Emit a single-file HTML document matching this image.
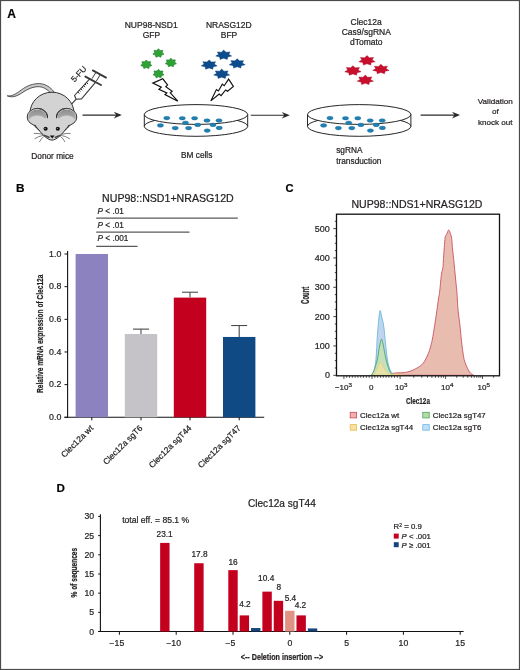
<!DOCTYPE html>
<html><head><meta charset="utf-8"><style>
html,body{margin:0;padding:0;background:#fff;}
svg{display:block;font-family:"Liberation Sans", sans-serif;} text{stroke:#231f20;stroke-width:0.22px;}
</style></head><body>
<svg style="will-change:transform" width="520" height="670" viewBox="0 0 520 670">
<rect x="0" y="0" width="520" height="670" fill="#fff"/>
<text x="7.2" y="18.2" font-size="12" font-weight="bold" fill="#000">A</text><path d="M7.2,95.8 C12,96.8 16.5,93.5 21.5,89.8 C27,85.8 33,83.4 39.5,83.6 C45.5,83.9 50.5,87.4 54,91.8 L51.2,93.6 C48,90 44,87 39.2,86.7 C33.5,86.5 28.5,88.6 23,92.2 C17.5,96 12.5,98.2 7.2,95.8 Z" fill="#c9c9c9" stroke="#333" stroke-width="0.8"/><ellipse cx="52" cy="113.2" rx="22" ry="21" fill="#d3d3d3" stroke="#333" stroke-width="1"/><defs><linearGradient id="eg" x1="0" y1="0" x2="0" y2="1"><stop offset="0" stop-color="#8c8c8c"/><stop offset="0.5" stop-color="#b0b0b0"/><stop offset="1" stop-color="#d3d3d3"/></linearGradient><clipPath id="ecl"><ellipse cx="37.4" cy="117" rx="9.2" ry="7.6"/></clipPath><clipPath id="ecr"><ellipse cx="66.6" cy="117" rx="9.2" ry="7.6"/></clipPath></defs><ellipse cx="37.4" cy="117" rx="10.2" ry="8.6" fill="#d3d3d3" stroke="#333" stroke-width="1"/><g clip-path="url(#ecl)"><ellipse cx="37.4" cy="119" rx="11" ry="9.5" fill="url(#eg)"/><ellipse cx="37.4" cy="123.2" rx="9.5" ry="7.6" fill="#d3d3d3"/></g><ellipse cx="66.6" cy="117" rx="10.2" ry="8.6" fill="#d3d3d3" stroke="#333" stroke-width="1"/><g clip-path="url(#ecr)"><ellipse cx="66.6" cy="119" rx="11" ry="9.5" fill="url(#eg)"/><ellipse cx="66.6" cy="123.2" rx="9.5" ry="7.6" fill="#d3d3d3"/></g><path d="M35.2,124.6 C38.5,129 41.5,134 45,136.5 C48,139 50,140 52,140 C54,140 56,139 59,136.5 C62.5,134 65.5,129 68.8,124.6 L70,125.6 L68,121 L56.3,117.6 L47.7,117.6 L36,121 L34,125.6 Z" fill="#d3d3d3"/><path d="M34.8,125.1 C38.2,129 41.5,134 45,136.6 C48,139.2 50,140.1 52,140.1 C54,140.1 56,139.2 59,136.6 C62.5,134 65.8,129 69.2,125.1" fill="none" stroke="#333" stroke-width="1"/><path d="M37.6,108.4 C43,108.8 47.2,111.5 47.6,118.2" fill="none" stroke="#333" stroke-width="1"/><path d="M66.4,108.4 C61,108.8 56.8,111.5 56.4,118.2" fill="none" stroke="#333" stroke-width="1"/><circle cx="45.6" cy="128.8" r="2.05" fill="#111"/><circle cx="57.8" cy="128.8" r="2.05" fill="#111"/><circle cx="45.1" cy="128.2" r="0.5" fill="#ddd"/><circle cx="57.3" cy="128.2" r="0.5" fill="#ddd"/><path d="M43.8,135.2 C46,136 48,136.6 49.6,137.6" stroke="#4a4a4a" stroke-width="1.6" fill="none"/><path d="M60.6,135.2 C58.4,136 56.4,136.6 54.8,137.6" stroke="#4a4a4a" stroke-width="1.6" fill="none"/><path d="M49.8,135.6 L54.6,135.6 L52.2,138.6 Z" fill="#111"/><path d="M43,134.3 Q38,133.2 33.8,133.4" stroke="#3a3a3a" stroke-width="0.65" fill="none"/><path d="M43.2,135.4 Q38.5,136.2 34.6,138.8" stroke="#3a3a3a" stroke-width="0.65" fill="none"/><path d="M43.8,136.4 Q41,138.8 39.4,142" stroke="#3a3a3a" stroke-width="0.65" fill="none"/><path d="M61.4,134.3 Q66.4,133.2 70.6,133.4" stroke="#3a3a3a" stroke-width="0.65" fill="none"/><path d="M61.2,135.4 Q65.9,136.2 69.8,138.8" stroke="#3a3a3a" stroke-width="0.65" fill="none"/><path d="M60.6,136.4 Q63.4,138.8 65,142" stroke="#3a3a3a" stroke-width="0.65" fill="none"/><line x1="71.8" y1="103.8" x2="76.2" y2="99.2" stroke="#3a3a3a" stroke-width="1.2"/><polygon points="74.5,95.5 89.7,78.9 95.7,82.2 81.5,98.9 76.2,99.3" fill="#fff" stroke="#3a3a3a" stroke-width="1.1" stroke-linejoin="round"/><line x1="77.84" y1="91.85" x2="79.30" y2="93.50" stroke="#2a2a2a" stroke-width="1.0"/><line x1="79.29" y1="90.27" x2="80.41" y2="91.55" stroke="#2a2a2a" stroke-width="1.0"/><line x1="80.73" y1="88.69" x2="82.18" y2="90.34" stroke="#2a2a2a" stroke-width="1.0"/><line x1="82.18" y1="87.12" x2="83.30" y2="88.39" stroke="#2a2a2a" stroke-width="1.0"/><line x1="83.62" y1="85.54" x2="85.07" y2="87.19" stroke="#2a2a2a" stroke-width="1.0"/><line x1="85.06" y1="83.96" x2="86.19" y2="85.24" stroke="#2a2a2a" stroke-width="1.0"/><line x1="86.51" y1="82.39" x2="87.96" y2="84.04" stroke="#2a2a2a" stroke-width="1.0"/><line x1="92" y1="78.6" x2="96.2" y2="72" stroke="#3a3a3a" stroke-width="1"/><line x1="96.3" y1="81.1" x2="100.5" y2="74.3" stroke="#3a3a3a" stroke-width="1"/><line x1="85.4" y1="76.6" x2="101" y2="85" stroke="#3a3a3a" stroke-width="1.9" stroke-linecap="round"/><line x1="92.8" y1="70.4" x2="106" y2="77.6" stroke="#3a3a3a" stroke-width="1.9" stroke-linecap="round"/><text x="0" y="0" font-size="8.2" fill="#231f20" transform="translate(74.6,82.6) rotate(-47)">5-FU</text><text x="52.5" y="158.8" font-size="8.3" text-anchor="middle" fill="#231f20" >Donor mice</text><line x1="82.5" y1="115.1" x2="119.8" y2="115.1" stroke="#2a2a2a" stroke-width="1.1"/><path d="M121.8,115.1 L113.8,111.8 L116.3,115.1 L113.8,118.39999999999999 Z" fill="#2a2a2a"/><line x1="250.8" y1="115.2" x2="287.8" y2="115.2" stroke="#2a2a2a" stroke-width="1.1"/><path d="M289.8,115.2 L281.8,111.9 L284.3,115.2 L281.8,118.5 Z" fill="#2a2a2a"/><line x1="420.6" y1="115.1" x2="458" y2="115.1" stroke="#2a2a2a" stroke-width="1.1"/><path d="M460,115.1 L452,111.8 L454.5,115.1 L452,118.39999999999999 Z" fill="#2a2a2a"/><path d="M144.30,114.5 L144.30,126.4 A51.7,9.9 0 0 0 247.70,126.4 L247.70,114.5 Z" fill="#fff"/><ellipse cx="196.00" cy="114.5" rx="51.7" ry="9.9" fill="#fff" stroke="#262626" stroke-width="1"/><path d="M144.30,114.5 L144.30,126.4 A51.7,9.9 0 0 0 247.70,126.4 L247.70,114.5" fill="none" stroke="#262626" stroke-width="1"/><path d="M144.30,126.4 A51.7,9.9 0 0 1 154.68,120.45" fill="none" stroke="#262626" stroke-width="1"/><path d="M247.70,126.4 A51.7,9.9 0 0 0 237.32,120.45" fill="none" stroke="#262626" stroke-width="1"/><ellipse cx="166.80" cy="118.1" rx="3.1" ry="1.8" fill="#1f80b4" stroke="#16688f" stroke-width="0.4"/><ellipse cx="182.30" cy="118.2" rx="3.1" ry="1.8" fill="#1f80b4" stroke="#16688f" stroke-width="0.4"/><ellipse cx="194.60" cy="118.2" rx="3.1" ry="1.8" fill="#1f80b4" stroke="#16688f" stroke-width="0.4"/><ellipse cx="207.00" cy="120.5" rx="3.1" ry="1.8" fill="#1f80b4" stroke="#16688f" stroke-width="0.4"/><ellipse cx="219.00" cy="120.5" rx="3.1" ry="1.8" fill="#1f80b4" stroke="#16688f" stroke-width="0.4"/><ellipse cx="185.50" cy="122.8" rx="3.1" ry="1.8" fill="#1f80b4" stroke="#16688f" stroke-width="0.4"/><ellipse cx="197.70" cy="124.9" rx="3.1" ry="1.8" fill="#1f80b4" stroke="#16688f" stroke-width="0.4"/><ellipse cx="213.00" cy="124.9" rx="3.1" ry="1.8" fill="#1f80b4" stroke="#16688f" stroke-width="0.4"/><ellipse cx="160.40" cy="125.4" rx="3.1" ry="1.8" fill="#1f80b4" stroke="#16688f" stroke-width="0.4"/><ellipse cx="175.20" cy="128.1" rx="3.1" ry="1.8" fill="#1f80b4" stroke="#16688f" stroke-width="0.4"/><ellipse cx="188.60" cy="128.1" rx="3.1" ry="1.8" fill="#1f80b4" stroke="#16688f" stroke-width="0.4"/><ellipse cx="219.20" cy="127.9" rx="3.1" ry="1.8" fill="#1f80b4" stroke="#16688f" stroke-width="0.4"/><ellipse cx="207.20" cy="130.6" rx="3.1" ry="1.8" fill="#1f80b4" stroke="#16688f" stroke-width="0.4"/><path d="M307.50,114.5 L307.50,126.4 A51.7,9.9 0 0 0 410.90,126.4 L410.90,114.5 Z" fill="#fff"/><ellipse cx="359.20" cy="114.5" rx="51.7" ry="9.9" fill="#fff" stroke="#262626" stroke-width="1"/><path d="M307.50,114.5 L307.50,126.4 A51.7,9.9 0 0 0 410.90,126.4 L410.90,114.5" fill="none" stroke="#262626" stroke-width="1"/><path d="M307.50,126.4 A51.7,9.9 0 0 1 317.88,120.45" fill="none" stroke="#262626" stroke-width="1"/><path d="M410.90,126.4 A51.7,9.9 0 0 0 400.52,120.45" fill="none" stroke="#262626" stroke-width="1"/><ellipse cx="330.00" cy="118.1" rx="3.1" ry="1.8" fill="#1f80b4" stroke="#16688f" stroke-width="0.4"/><ellipse cx="345.50" cy="118.2" rx="3.1" ry="1.8" fill="#1f80b4" stroke="#16688f" stroke-width="0.4"/><ellipse cx="357.80" cy="118.2" rx="3.1" ry="1.8" fill="#1f80b4" stroke="#16688f" stroke-width="0.4"/><ellipse cx="370.20" cy="120.5" rx="3.1" ry="1.8" fill="#1f80b4" stroke="#16688f" stroke-width="0.4"/><ellipse cx="382.20" cy="120.5" rx="3.1" ry="1.8" fill="#1f80b4" stroke="#16688f" stroke-width="0.4"/><ellipse cx="348.70" cy="122.8" rx="3.1" ry="1.8" fill="#1f80b4" stroke="#16688f" stroke-width="0.4"/><ellipse cx="360.90" cy="124.9" rx="3.1" ry="1.8" fill="#1f80b4" stroke="#16688f" stroke-width="0.4"/><ellipse cx="376.20" cy="124.9" rx="3.1" ry="1.8" fill="#1f80b4" stroke="#16688f" stroke-width="0.4"/><ellipse cx="323.60" cy="125.4" rx="3.1" ry="1.8" fill="#1f80b4" stroke="#16688f" stroke-width="0.4"/><ellipse cx="338.40" cy="128.1" rx="3.1" ry="1.8" fill="#1f80b4" stroke="#16688f" stroke-width="0.4"/><ellipse cx="351.80" cy="128.1" rx="3.1" ry="1.8" fill="#1f80b4" stroke="#16688f" stroke-width="0.4"/><ellipse cx="382.40" cy="127.9" rx="3.1" ry="1.8" fill="#1f80b4" stroke="#16688f" stroke-width="0.4"/><ellipse cx="370.40" cy="130.6" rx="3.1" ry="1.8" fill="#1f80b4" stroke="#16688f" stroke-width="0.4"/><text x="181" y="158.4" font-size="8.3" text-anchor="start" fill="#231f20" >BM cells</text><text x="336.2" y="152.8" font-size="8.3" text-anchor="start" fill="#231f20" >sgRNA</text><text x="336.2" y="163.5" font-size="8.3" text-anchor="start" fill="#231f20" >transduction</text><text x="495.3" y="104" font-size="8.1" text-anchor="middle" fill="#231f20" >Validation</text><text x="495.3" y="114.4" font-size="8.1" text-anchor="middle" fill="#231f20" >of</text><text x="495.3" y="124.6" font-size="8.1" text-anchor="middle" fill="#231f20" >knock out</text><text x="151.2" y="27.9" font-size="8.5" text-anchor="middle" fill="#231f20" >NUP98-NSD1</text><text x="151.5" y="38.1" font-size="8.5" text-anchor="middle" fill="#231f20" >GFP</text><text x="228.8" y="27.9" font-size="8.5" text-anchor="middle" fill="#231f20" >NRASG12D</text><text x="229" y="38.1" font-size="8.5" text-anchor="middle" fill="#231f20" >BFP</text><text x="366.2" y="24.5" font-size="8.5" text-anchor="middle" fill="#231f20" >Clec12a</text><text x="366.3" y="34.6" font-size="8.5" text-anchor="middle" fill="#231f20" >Cas9/sgRNA</text><text x="366.3" y="44.8" font-size="8.5" text-anchor="middle" fill="#231f20" >dTomato</text><polygon points="158.40,48.70 160.08,50.44 162.86,50.39 162.18,52.52 163.96,54.20 161.43,55.11 160.87,57.25 158.40,56.26 155.93,57.25 155.37,55.11 152.84,54.20 154.62,52.52 153.94,50.39 156.72,50.44" fill="#2fa236" stroke="#1d7a26" stroke-width="0.6"/><polygon points="146.30,60.00 147.98,61.74 150.76,61.69 150.08,63.82 151.86,65.50 149.33,66.41 148.77,68.55 146.30,67.56 143.83,68.55 143.27,66.41 140.74,65.50 142.52,63.82 141.84,61.69 144.62,61.74" fill="#2fa236" stroke="#1d7a26" stroke-width="0.6"/><polygon points="170.90,58.20 172.58,59.94 175.36,59.89 174.68,62.02 176.46,63.70 173.93,64.61 173.37,66.75 170.90,65.76 168.43,66.75 167.87,64.61 165.34,63.70 167.12,62.02 166.44,59.89 169.22,59.94" fill="#2fa236" stroke="#1d7a26" stroke-width="0.6"/><polygon points="158.50,69.30 160.18,71.04 162.96,70.99 162.28,73.12 164.06,74.80 161.53,75.71 160.97,77.85 158.50,76.86 156.03,77.85 155.47,75.71 152.94,74.80 154.72,73.12 154.04,70.99 156.82,71.04" fill="#2fa236" stroke="#1d7a26" stroke-width="0.6"/><polygon points="223.70,50.10 225.98,52.17 230.11,51.94 228.82,54.30 231.69,56.09 227.80,56.96 227.26,59.41 223.70,58.14 220.14,59.41 219.60,56.96 215.71,56.09 218.58,54.30 217.29,51.94 221.42,52.17" fill="#0d4c8c" stroke="#0a3a70" stroke-width="0.4"/><polygon points="209.20,59.90 211.48,61.97 215.61,61.74 214.32,64.10 217.19,65.89 213.30,66.76 212.76,69.21 209.20,67.94 205.64,69.21 205.10,66.76 201.21,65.89 204.08,64.10 202.79,61.74 206.92,61.97" fill="#0d4c8c" stroke="#0a3a70" stroke-width="0.4"/><polygon points="237.20,58.80 239.48,60.87 243.61,60.64 242.32,63.00 245.19,64.79 241.30,65.66 240.76,68.11 237.20,66.84 233.64,68.11 233.10,65.66 229.21,64.79 232.08,63.00 230.79,60.64 234.92,60.87" fill="#0d4c8c" stroke="#0a3a70" stroke-width="0.4"/><polygon points="221.70,69.10 223.98,71.17 228.11,70.94 226.82,73.30 229.69,75.09 225.80,75.96 225.26,78.41 221.70,77.14 218.14,78.41 217.60,75.96 213.71,75.09 216.58,73.30 215.29,70.94 219.42,71.17" fill="#0d4c8c" stroke="#0a3a70" stroke-width="0.4"/><polygon points="367.00,55.60 369.33,57.72 373.57,57.48 372.24,59.89 375.19,61.71 371.20,62.60 370.64,65.10 367.00,63.80 363.36,65.10 362.80,62.60 358.81,61.71 361.76,59.89 360.43,57.48 364.67,57.72" fill="#c8102e" stroke="#a00d25" stroke-width="0.4"/><polygon points="352.90,65.70 355.23,67.82 359.47,67.58 358.14,69.99 361.09,71.81 357.10,72.70 356.54,75.20 352.90,73.90 349.26,75.20 348.70,72.70 344.71,71.81 347.66,69.99 346.33,67.58 350.57,67.82" fill="#c8102e" stroke="#a00d25" stroke-width="0.4"/><polygon points="380.90,64.30 383.23,66.42 387.47,66.18 386.14,68.59 389.09,70.41 385.10,71.30 384.54,73.80 380.90,72.50 377.26,73.80 376.70,71.30 372.71,70.41 375.66,68.59 374.33,66.18 378.57,66.42" fill="#c8102e" stroke="#a00d25" stroke-width="0.4"/><polygon points="365.30,75.10 367.63,77.22 371.87,76.98 370.54,79.39 373.49,81.21 369.50,82.10 368.94,84.60 365.30,83.30 361.66,84.60 361.10,82.10 357.11,81.21 360.06,79.39 358.73,76.98 362.97,77.22" fill="#c8102e" stroke="#a00d25" stroke-width="0.4"/><polygon points="152.8,83.1 162.8,78.8 167.6,85.0 165.8,86.6 172.2,91.2 170.3,92.9 177.8,101.2 165.0,94.6 166.8,93.0 158.9,89.3 161.3,87.2" fill="#fff" stroke="#111" stroke-width="1.15" stroke-linejoin="miter"/><polygon points="228.6,79.1 233.4,86.5 227.6,91.3 225.6,90.0 221.1,95.6 219.2,94.0 210.8,100.9 216.4,89.6 218.4,91.0 222.3,84.1 224.2,85.7" fill="#fff" stroke="#111" stroke-width="1.15" stroke-linejoin="miter"/><text x="16" y="191.5" font-size="11.8" font-weight="bold" fill="#000">B</text><text x="167.9" y="202.2" font-size="10.6" text-anchor="middle" fill="#231f20" >NUP98::NSD1+NRASG12D</text><line x1="96.2" y1="218" x2="237.8" y2="218" stroke="#5a5a5a" stroke-width="1.25"/><text x="97.6" y="214.1" font-size="8.2" fill="#231f20"><tspan font-style="italic">P</tspan> &lt; .01</text><line x1="96.2" y1="232" x2="189.5" y2="232" stroke="#5a5a5a" stroke-width="1.25"/><text x="97.6" y="227.6" font-size="8.2" fill="#231f20"><tspan font-style="italic">P</tspan> &lt; .01</text><line x1="96.2" y1="246.3" x2="137.5" y2="246.3" stroke="#5a5a5a" stroke-width="1.25"/><text x="97.6" y="240.9" font-size="8.2" fill="#231f20"><tspan font-style="italic">P</tspan> &lt; .001</text><line x1="67.6" y1="251" x2="67.6" y2="417.8" stroke="#111" stroke-width="1.1"/><line x1="64.4" y1="417.3" x2="264.2" y2="417.3" stroke="#111" stroke-width="1.1"/><line x1="64.5" y1="417.30" x2="67.6" y2="417.30" stroke="#111" stroke-width="1"/><text x="61.3" y="420.00" font-size="8.8" text-anchor="end" fill="#231f20" >0.0</text><line x1="64.5" y1="384.64" x2="67.6" y2="384.64" stroke="#111" stroke-width="1"/><text x="61.3" y="387.34" font-size="8.8" text-anchor="end" fill="#231f20" >0.2</text><line x1="64.5" y1="351.98" x2="67.6" y2="351.98" stroke="#111" stroke-width="1"/><text x="61.3" y="354.68" font-size="8.8" text-anchor="end" fill="#231f20" >0.4</text><line x1="64.5" y1="319.32" x2="67.6" y2="319.32" stroke="#111" stroke-width="1"/><text x="61.3" y="322.02" font-size="8.8" text-anchor="end" fill="#231f20" >0.6</text><line x1="64.5" y1="286.66" x2="67.6" y2="286.66" stroke="#111" stroke-width="1"/><text x="61.3" y="289.36" font-size="8.8" text-anchor="end" fill="#231f20" >0.8</text><line x1="64.5" y1="254.00" x2="67.6" y2="254.00" stroke="#111" stroke-width="1"/><text x="61.3" y="256.70" font-size="8.8" text-anchor="end" fill="#231f20" >1.0</text><rect x="75.60" y="254.00" width="32.4" height="163.30" fill="#8c82c0"/><line x1="91.8" y1="417.3" x2="91.8" y2="420.3" stroke="#111" stroke-width="1"/><text x="0" y="0" font-size="8.4" text-anchor="end" fill="#231f20" transform="translate(93.8,428.7) rotate(-45)">Clec12a wt</text><rect x="124.80" y="334.02" width="32.4" height="83.28" fill="#c5c3c7"/><line x1="141.0" y1="334.02" x2="141.0" y2="329.12" stroke="#4a4a4a" stroke-width="1.1"/><line x1="133.0" y1="329.12" x2="149.0" y2="329.12" stroke="#4a4a4a" stroke-width="1.1"/><line x1="141.0" y1="417.3" x2="141.0" y2="420.3" stroke="#111" stroke-width="1"/><text x="0" y="0" font-size="8.4" text-anchor="end" fill="#231f20" transform="translate(143.0,428.7) rotate(-45)">Clec12a sgT6</text><rect x="173.80" y="297.60" width="32.4" height="119.70" fill="#c4001f"/><line x1="190.0" y1="297.60" x2="190.0" y2="292.21" stroke="#4a4a4a" stroke-width="1.1"/><line x1="182.0" y1="292.21" x2="198.0" y2="292.21" stroke="#4a4a4a" stroke-width="1.1"/><line x1="190.0" y1="417.3" x2="190.0" y2="420.3" stroke="#111" stroke-width="1"/><text x="0" y="0" font-size="8.4" text-anchor="end" fill="#231f20" transform="translate(192.0,428.7) rotate(-45)">Clec12a sgT44</text><rect x="223.00" y="336.96" width="32.4" height="80.34" fill="#0f4a85"/><line x1="239.2" y1="336.96" x2="239.2" y2="325.53" stroke="#4a4a4a" stroke-width="1.1"/><line x1="231.2" y1="325.53" x2="247.2" y2="325.53" stroke="#4a4a4a" stroke-width="1.1"/><line x1="239.2" y1="417.3" x2="239.2" y2="420.3" stroke="#111" stroke-width="1"/><text x="0" y="0" font-size="8.4" text-anchor="end" fill="#231f20" transform="translate(241.2,428.7) rotate(-45)">Clec12a sgT47</text><text x="0" y="0" font-size="9.8" font-weight="bold" textLength="118.3" lengthAdjust="spacingAndGlyphs" fill="#231f20" transform="translate(42.9,392.9) rotate(-90)">Relative mRNA expression of Clec12a</text><text x="285.6" y="191.7" font-size="11.2" font-weight="bold" fill="#000">C</text><text x="417.0" y="207.5" font-size="10.55" text-anchor="middle" fill="#231f20" >NUP98::NDS1+NRASG12D</text><path d="M383.00,375.30 C383.67,375.12 385.50,374.52 387.00,374.20 C388.50,373.88 390.33,373.62 392.00,373.40 C393.67,373.18 395.17,373.02 397.00,372.90 C398.83,372.78 401.22,372.87 403.00,372.70 C404.78,372.53 406.15,372.28 407.70,371.90 C409.25,371.52 410.77,371.03 412.30,370.40 C413.83,369.77 415.37,369.00 416.90,368.10 C418.43,367.20 420.22,366.15 421.50,365.00 C422.78,363.85 423.57,362.87 424.60,361.20 C425.63,359.53 426.80,357.07 427.70,355.00 C428.60,352.93 429.23,351.37 430.00,348.80 C430.77,346.23 431.53,343.43 432.30,339.60 C433.07,335.77 433.83,330.67 434.60,325.80 C435.37,320.93 436.28,314.70 436.90,310.40 C437.52,306.10 437.85,303.03 438.30,300.00 C438.75,296.97 439.20,295.37 439.60,292.20 C440.00,289.03 440.37,284.17 440.70,281.00 C441.03,277.83 441.23,275.43 441.60,273.20 C441.97,270.97 442.58,270.03 442.90,267.60 C443.22,265.17 443.27,261.97 443.50,258.60 C443.73,255.23 444.02,250.95 444.30,247.40 C444.58,243.85 444.78,239.53 445.20,237.30 C445.62,235.07 446.22,235.22 446.80,234.00 C447.38,232.78 448.08,230.00 448.70,230.00 C449.32,230.00 450.00,232.60 450.50,234.00 C451.00,235.40 451.38,236.17 451.70,238.40 C452.02,240.63 452.08,244.03 452.40,247.40 C452.72,250.77 453.22,254.87 453.60,258.60 C453.98,262.33 454.33,266.07 454.70,269.80 C455.07,273.53 455.43,277.27 455.80,281.00 C456.17,284.73 456.63,289.03 456.90,292.20 C457.17,295.37 457.20,296.97 457.40,300.00 C457.60,303.03 457.67,306.10 458.10,310.40 C458.53,314.70 459.43,320.67 460.00,325.80 C460.57,330.93 460.98,336.58 461.50,341.20 C462.02,345.82 462.58,350.17 463.10,353.50 C463.62,356.83 463.83,358.65 464.60,361.20 C465.37,363.75 466.67,366.75 467.70,368.80 C468.73,370.85 469.78,372.42 470.80,373.50 C471.82,374.58 473.30,375.00 473.80,375.30 Z" fill="#e9bcb0" stroke="#c44a5a" stroke-width="0.85"/><path d="M371.50,375.30 C371.75,374.92 372.50,374.05 373.00,373.00 C373.50,371.95 374.03,371.00 374.50,369.00 C374.97,367.00 375.45,364.17 375.80,361.00 C376.15,357.83 376.40,353.37 376.60,350.00 C376.80,346.63 376.87,343.32 377.00,340.80 C377.13,338.28 377.25,336.88 377.40,334.90 C377.55,332.92 377.73,330.90 377.90,328.90 C378.07,326.90 378.22,324.90 378.40,322.90 C378.58,320.90 378.70,318.98 379.00,316.90 C379.30,314.82 379.75,310.40 380.20,310.40 C380.65,310.40 381.20,314.82 381.70,316.90 C382.20,318.98 382.80,320.90 383.20,322.90 C383.60,324.90 383.85,326.90 384.10,328.90 C384.35,330.90 384.50,332.92 384.70,334.90 C384.90,336.88 385.05,338.28 385.30,340.80 C385.55,343.32 385.88,347.13 386.20,350.00 C386.52,352.87 386.85,355.67 387.20,358.00 C387.55,360.33 387.87,362.17 388.30,364.00 C388.73,365.83 389.27,367.58 389.80,369.00 C390.33,370.42 390.88,371.45 391.50,372.50 C392.12,373.55 393.17,374.83 393.50,375.30 Z" fill="#c0d4f0" stroke="#5cb4d8" stroke-width="0.8"/><path d="M371.00,375.30 C371.25,375.00 372.00,374.30 372.50,373.50 C373.00,372.70 373.50,371.75 374.00,370.50 C374.50,369.25 374.95,367.75 375.50,366.00 C376.05,364.25 376.78,362.33 377.30,360.00 C377.82,357.67 378.18,354.50 378.60,352.00 C379.02,349.50 379.32,347.13 379.80,345.00 C380.28,342.87 380.97,339.37 381.50,339.20 C382.03,339.03 382.53,342.03 383.00,344.00 C383.47,345.97 383.92,349.00 384.30,351.00 C384.68,353.00 384.98,354.50 385.30,356.00 C385.62,357.50 385.83,358.50 386.20,360.00 C386.57,361.50 387.03,363.42 387.50,365.00 C387.97,366.58 388.50,368.25 389.00,369.50 C389.50,370.75 389.92,371.53 390.50,372.50 C391.08,373.47 392.17,374.83 392.50,375.30 Z" fill="#c4e2b4" fill-opacity="0.92" stroke="#3c9c64" stroke-width="0.8"/><path d="M372.50,375.30 C372.83,375.00 373.83,374.38 374.50,373.50 C375.17,372.62 375.83,371.33 376.50,370.00 C377.17,368.67 377.83,366.78 378.50,365.50 C379.17,364.22 379.83,362.38 380.50,362.30 C381.17,362.22 381.75,363.72 382.50,365.00 C383.25,366.28 384.08,368.67 385.00,370.00 C385.92,371.33 387.00,372.28 388.00,373.00 C389.00,373.72 389.83,374.13 391.00,374.30 C392.17,374.47 393.50,373.95 395.00,374.00 C396.50,374.05 398.50,374.38 400.00,374.60 C401.50,374.82 403.33,375.18 404.00,375.30 Z" fill="#efe2a4" fill-opacity="0.8" stroke="#e6c870" stroke-width="0.6"/><rect x="336.5" y="214.2" width="163.0" height="161.60000000000002" fill="none" stroke="#111" stroke-width="1.3"/><line x1="333.3" y1="375.30" x2="336.5" y2="375.30" stroke="#111" stroke-width="0.8"/><text x="329.9" y="378.40" font-size="9.0" text-anchor="end" fill="#231f20" >0</text><line x1="334.8" y1="367.97" x2="336.5" y2="367.97" stroke="#111" stroke-width="0.8"/><line x1="334.8" y1="360.63" x2="336.5" y2="360.63" stroke="#111" stroke-width="0.8"/><line x1="334.8" y1="353.30" x2="336.5" y2="353.30" stroke="#111" stroke-width="0.8"/><line x1="333.3" y1="345.96" x2="336.5" y2="345.96" stroke="#111" stroke-width="0.8"/><text x="329.9" y="349.06" font-size="9.0" text-anchor="end" fill="#231f20" >100</text><line x1="334.8" y1="338.62" x2="336.5" y2="338.62" stroke="#111" stroke-width="0.8"/><line x1="334.8" y1="331.29" x2="336.5" y2="331.29" stroke="#111" stroke-width="0.8"/><line x1="334.8" y1="323.96" x2="336.5" y2="323.96" stroke="#111" stroke-width="0.8"/><line x1="333.3" y1="316.62" x2="336.5" y2="316.62" stroke="#111" stroke-width="0.8"/><text x="329.9" y="319.72" font-size="9.0" text-anchor="end" fill="#231f20" >200</text><line x1="334.8" y1="309.29" x2="336.5" y2="309.29" stroke="#111" stroke-width="0.8"/><line x1="334.8" y1="301.95" x2="336.5" y2="301.95" stroke="#111" stroke-width="0.8"/><line x1="334.8" y1="294.62" x2="336.5" y2="294.62" stroke="#111" stroke-width="0.8"/><line x1="333.3" y1="287.28" x2="336.5" y2="287.28" stroke="#111" stroke-width="0.8"/><text x="329.9" y="290.38" font-size="9.0" text-anchor="end" fill="#231f20" >300</text><line x1="334.8" y1="279.94" x2="336.5" y2="279.94" stroke="#111" stroke-width="0.8"/><line x1="334.8" y1="272.61" x2="336.5" y2="272.61" stroke="#111" stroke-width="0.8"/><line x1="334.8" y1="265.28" x2="336.5" y2="265.28" stroke="#111" stroke-width="0.8"/><line x1="333.3" y1="257.94" x2="336.5" y2="257.94" stroke="#111" stroke-width="0.8"/><text x="329.9" y="261.04" font-size="9.0" text-anchor="end" fill="#231f20" >400</text><line x1="334.8" y1="250.61" x2="336.5" y2="250.61" stroke="#111" stroke-width="0.8"/><line x1="334.8" y1="243.27" x2="336.5" y2="243.27" stroke="#111" stroke-width="0.8"/><line x1="334.8" y1="235.94" x2="336.5" y2="235.94" stroke="#111" stroke-width="0.8"/><line x1="333.3" y1="228.60" x2="336.5" y2="228.60" stroke="#111" stroke-width="0.8"/><text x="329.9" y="231.70" font-size="9.0" text-anchor="end" fill="#231f20" >500</text><line x1="334.8" y1="221.27" x2="336.5" y2="221.27" stroke="#111" stroke-width="0.8"/><line x1="343.90" y1="375.8" x2="343.90" y2="379.0" stroke="#111" stroke-width="0.7"/><line x1="346.71" y1="375.8" x2="346.71" y2="377.8" stroke="#111" stroke-width="0.7"/><line x1="349.52" y1="375.8" x2="349.52" y2="377.8" stroke="#111" stroke-width="0.7"/><line x1="352.33" y1="375.8" x2="352.33" y2="377.8" stroke="#111" stroke-width="0.7"/><line x1="355.14" y1="375.8" x2="355.14" y2="377.8" stroke="#111" stroke-width="0.7"/><line x1="357.95" y1="375.8" x2="357.95" y2="377.8" stroke="#111" stroke-width="0.7"/><line x1="360.76" y1="375.8" x2="360.76" y2="377.8" stroke="#111" stroke-width="0.7"/><line x1="363.57" y1="375.8" x2="363.57" y2="377.8" stroke="#111" stroke-width="0.7"/><line x1="366.38" y1="375.8" x2="366.38" y2="377.8" stroke="#111" stroke-width="0.7"/><line x1="369.19" y1="375.8" x2="369.19" y2="377.8" stroke="#111" stroke-width="0.7"/><line x1="372.00" y1="375.8" x2="372.00" y2="379.0" stroke="#111" stroke-width="0.7"/><line x1="374.81" y1="375.8" x2="374.81" y2="377.8" stroke="#111" stroke-width="0.7"/><line x1="377.62" y1="375.8" x2="377.62" y2="377.8" stroke="#111" stroke-width="0.7"/><line x1="380.43" y1="375.8" x2="380.43" y2="377.8" stroke="#111" stroke-width="0.7"/><line x1="383.24" y1="375.8" x2="383.24" y2="377.8" stroke="#111" stroke-width="0.7"/><line x1="386.05" y1="375.8" x2="386.05" y2="377.8" stroke="#111" stroke-width="0.7"/><line x1="388.86" y1="375.8" x2="388.86" y2="377.8" stroke="#111" stroke-width="0.7"/><line x1="391.67" y1="375.8" x2="391.67" y2="377.8" stroke="#111" stroke-width="0.7"/><line x1="394.48" y1="375.8" x2="394.48" y2="377.8" stroke="#111" stroke-width="0.7"/><line x1="397.29" y1="375.8" x2="397.29" y2="377.8" stroke="#111" stroke-width="0.7"/><line x1="400.10" y1="375.8" x2="400.10" y2="379.0" stroke="#111" stroke-width="0.7"/><line x1="413.80" y1="375.8" x2="413.80" y2="377.8" stroke="#111" stroke-width="0.7"/><line x1="421.81" y1="375.8" x2="421.81" y2="377.8" stroke="#111" stroke-width="0.7"/><line x1="427.49" y1="375.8" x2="427.49" y2="377.8" stroke="#111" stroke-width="0.7"/><line x1="431.90" y1="375.8" x2="431.90" y2="377.8" stroke="#111" stroke-width="0.7"/><line x1="435.51" y1="375.8" x2="435.51" y2="377.8" stroke="#111" stroke-width="0.7"/><line x1="438.55" y1="375.8" x2="438.55" y2="377.8" stroke="#111" stroke-width="0.7"/><line x1="441.19" y1="375.8" x2="441.19" y2="377.8" stroke="#111" stroke-width="0.7"/><line x1="443.52" y1="375.8" x2="443.52" y2="377.8" stroke="#111" stroke-width="0.7"/><line x1="456.71" y1="375.8" x2="456.71" y2="377.8" stroke="#111" stroke-width="0.7"/><line x1="463.21" y1="375.8" x2="463.21" y2="377.8" stroke="#111" stroke-width="0.7"/><line x1="467.82" y1="375.8" x2="467.82" y2="377.8" stroke="#111" stroke-width="0.7"/><line x1="471.39" y1="375.8" x2="471.39" y2="377.8" stroke="#111" stroke-width="0.7"/><line x1="474.31" y1="375.8" x2="474.31" y2="377.8" stroke="#111" stroke-width="0.7"/><line x1="476.78" y1="375.8" x2="476.78" y2="377.8" stroke="#111" stroke-width="0.7"/><line x1="478.92" y1="375.8" x2="478.92" y2="377.8" stroke="#111" stroke-width="0.7"/><line x1="480.81" y1="375.8" x2="480.81" y2="377.8" stroke="#111" stroke-width="0.7"/><line x1="493.61" y1="375.8" x2="493.61" y2="377.8" stroke="#111" stroke-width="0.7"/><line x1="445.60" y1="375.8" x2="445.60" y2="379.0" stroke="#111" stroke-width="0.7"/><line x1="482.50" y1="375.8" x2="482.50" y2="379.0" stroke="#111" stroke-width="0.7"/><text x="343.4" y="390.3" font-size="8" text-anchor="middle" fill="#231f20">&#8722;10<tspan font-size="6.2" dy="-3.4">3</tspan></text><text x="371.3" y="390.3" font-size="8" text-anchor="middle" fill="#231f20" >0</text><text x="401.2" y="390.3" font-size="8" text-anchor="middle" fill="#231f20">10<tspan font-size="6.2" dy="-3.4">3</tspan></text><text x="447.3" y="390.3" font-size="8" text-anchor="middle" fill="#231f20">10<tspan font-size="6.2" dy="-3.4">4</tspan></text><text x="483.8" y="390.3" font-size="8" text-anchor="middle" fill="#231f20">10<tspan font-size="6.2" dy="-3.4">5</tspan></text><text x="0" y="0" font-size="9.8" font-weight="bold" textLength="23.9" lengthAdjust="spacingAndGlyphs" fill="#231f20" transform="translate(406.0,404.2)">Clec12a</text><text x="0" y="0" font-size="10.2" font-weight="bold" textLength="17.2" lengthAdjust="spacingAndGlyphs" fill="#231f20" transform="translate(308.8,303.9) rotate(-90)">Count</text><rect x="350.2" y="412.29999999999995" width="6.4" height="5.6" fill="#f3aeb0" stroke="#d0485a" stroke-width="0.8"/><text x="360.1" y="418.0" font-size="7.9" text-anchor="start" fill="#231f20" >Clec12a wt</text><rect x="422.79999999999995" y="412.29999999999995" width="6.4" height="5.6" fill="#b4dca8" stroke="#4ea35c" stroke-width="0.8"/><text x="432.7" y="418.0" font-size="7.9" text-anchor="start" fill="#231f20" >Clec12a sgT47</text><rect x="350.2" y="424.59999999999997" width="6.4" height="5.6" fill="#f8e0a0" stroke="#e8bf58" stroke-width="0.8"/><text x="360.1" y="430.3" font-size="7.9" text-anchor="start" fill="#231f20" >Clec12a sgT44</text><rect x="422.79999999999995" y="424.59999999999997" width="6.4" height="5.6" fill="#bfe0f6" stroke="#6fb6e6" stroke-width="0.8"/><text x="432.7" y="430.3" font-size="7.9" text-anchor="start" fill="#231f20" >Clec12a sgT6</text><text x="56.6" y="492.3" font-size="11.6" font-weight="bold" fill="#000">D</text><text x="281.9" y="507.3" font-size="10.1" text-anchor="middle" fill="#231f20" >Clec12a sgT44</text><line x1="100.4" y1="514.3" x2="100.4" y2="632.0" stroke="#111" stroke-width="1.1"/><line x1="98.2" y1="631.5" x2="463.6" y2="631.5" stroke="#111" stroke-width="1.1"/><line x1="98.2" y1="631.50" x2="100.4" y2="631.50" stroke="#111" stroke-width="1"/><text x="94.2" y="634.50" font-size="8.7" text-anchor="end" fill="#231f20" >0</text><line x1="98.2" y1="612.33" x2="100.4" y2="612.33" stroke="#111" stroke-width="1"/><text x="94.2" y="615.33" font-size="8.7" text-anchor="end" fill="#231f20" >5</text><line x1="98.2" y1="593.15" x2="100.4" y2="593.15" stroke="#111" stroke-width="1"/><text x="94.2" y="596.15" font-size="8.7" text-anchor="end" fill="#231f20" >10</text><line x1="98.2" y1="573.98" x2="100.4" y2="573.98" stroke="#111" stroke-width="1"/><text x="94.2" y="576.98" font-size="8.7" text-anchor="end" fill="#231f20" >15</text><line x1="98.2" y1="554.80" x2="100.4" y2="554.80" stroke="#111" stroke-width="1"/><text x="94.2" y="557.80" font-size="8.7" text-anchor="end" fill="#231f20" >20</text><line x1="98.2" y1="535.62" x2="100.4" y2="535.62" stroke="#111" stroke-width="1"/><text x="94.2" y="538.62" font-size="8.7" text-anchor="end" fill="#231f20" >25</text><line x1="98.2" y1="516.45" x2="100.4" y2="516.45" stroke="#111" stroke-width="1"/><text x="94.2" y="519.45" font-size="8.7" text-anchor="end" fill="#231f20" >30</text><line x1="119.40" y1="631.5" x2="119.40" y2="634.8" stroke="#111" stroke-width="1"/><text x="119.40" y="645.9" font-size="8.7" text-anchor="middle" fill="#231f20" >15</text><text x="114.16" y="645.9" font-size="8.7" text-anchor="end" fill="#231f20" >&#8722;</text><line x1="176.20" y1="631.5" x2="176.20" y2="634.8" stroke="#111" stroke-width="1"/><text x="176.20" y="645.9" font-size="8.7" text-anchor="middle" fill="#231f20" >10</text><text x="170.96" y="645.9" font-size="8.7" text-anchor="end" fill="#231f20" >&#8722;</text><line x1="233.00" y1="631.5" x2="233.00" y2="634.8" stroke="#111" stroke-width="1"/><text x="233.00" y="645.9" font-size="8.7" text-anchor="middle" fill="#231f20" >5</text><text x="230.18" y="645.9" font-size="8.7" text-anchor="end" fill="#231f20" >&#8722;</text><line x1="289.80" y1="631.5" x2="289.80" y2="634.8" stroke="#111" stroke-width="1"/><text x="289.80" y="645.9" font-size="8.7" text-anchor="middle" fill="#231f20" >0</text><line x1="346.60" y1="631.5" x2="346.60" y2="634.8" stroke="#111" stroke-width="1"/><text x="346.60" y="645.9" font-size="8.7" text-anchor="middle" fill="#231f20" >5</text><line x1="403.40" y1="631.5" x2="403.40" y2="634.8" stroke="#111" stroke-width="1"/><text x="403.40" y="645.9" font-size="8.7" text-anchor="middle" fill="#231f20" >10</text><line x1="460.20" y1="631.5" x2="460.20" y2="634.8" stroke="#111" stroke-width="1"/><text x="460.20" y="645.9" font-size="8.7" text-anchor="middle" fill="#231f20" >15</text><rect x="160.14" y="542.91" width="9.4" height="88.59" fill="#c4001f"/><text x="164.6" y="536.7" font-size="8.3" text-anchor="middle" fill="#231f20" >23.1</text><rect x="194.22" y="563.24" width="9.4" height="68.26" fill="#c4001f"/><text x="199.5" y="557.4" font-size="8.3" text-anchor="middle" fill="#231f20" >17.8</text><rect x="228.30" y="570.14" width="9.4" height="61.36" fill="#c4001f"/><text x="233.1" y="565.3" font-size="8.3" text-anchor="middle" fill="#231f20" >16</text><rect x="239.66" y="615.39" width="9.4" height="16.11" fill="#c4001f"/><text x="244.9" y="607.2" font-size="8.3" text-anchor="middle" fill="#231f20" >4.2</text><rect x="251.02" y="628.05" width="9.4" height="3.45" fill="#16457a"/><rect x="262.38" y="591.62" width="9.4" height="39.88" fill="#c4001f"/><text x="266.2" y="580.6" font-size="8.3" text-anchor="middle" fill="#231f20" >10.4</text><rect x="273.74" y="600.82" width="9.4" height="30.68" fill="#c4001f"/><text x="278.7" y="590.4" font-size="8.3" text-anchor="middle" fill="#231f20" >8</text><rect x="285.10" y="610.79" width="9.4" height="20.71" fill="#e29283"/><text x="290.4" y="600.6" font-size="8.3" text-anchor="middle" fill="#231f20" >5.4</text><rect x="296.46" y="615.39" width="9.4" height="16.11" fill="#c4001f"/><text x="300.4" y="608.1" font-size="8.3" text-anchor="middle" fill="#231f20" >4.2</text><rect x="307.82" y="628.43" width="9.4" height="3.07" fill="#16457a"/><text x="122.2" y="523.4" font-size="8.6" text-anchor="start" fill="#231f20" >total eff. = 85.1 %</text><text x="0" y="0" font-size="8.8" font-weight="bold" textLength="82.3" lengthAdjust="spacingAndGlyphs" fill="#231f20" transform="translate(240.8,660.0)">&lt;-- Deletion insertion --&gt;</text><text x="0" y="0" font-size="8.6" font-weight="bold" textLength="49.5" lengthAdjust="spacingAndGlyphs" fill="#231f20" transform="translate(76.7,597.4) rotate(-90)">% of sequences</text><text x="393.6" y="529.4" font-size="7.8" fill="#231f20">R<tspan font-size="5" dy="-2.6">2</tspan><tspan dy="2.6"> = 0.9</tspan></text><rect x="393.8" y="533.6" width="4.9" height="5" fill="#c4001f"/><text x="401.6" y="538.8" font-size="7.8" fill="#231f20"><tspan font-style="italic">P</tspan> &lt; .001</text><rect x="393.8" y="542.2" width="4.9" height="5" fill="#16457a"/><text x="401.6" y="547.5" font-size="7.8" fill="#231f20"><tspan font-style="italic">P</tspan> &#8805; .001</text>
<rect x="0.5" y="0.5" width="519" height="669" fill="none" stroke="#4a4a4a" stroke-width="1.2"/>
</svg>
</body></html>
